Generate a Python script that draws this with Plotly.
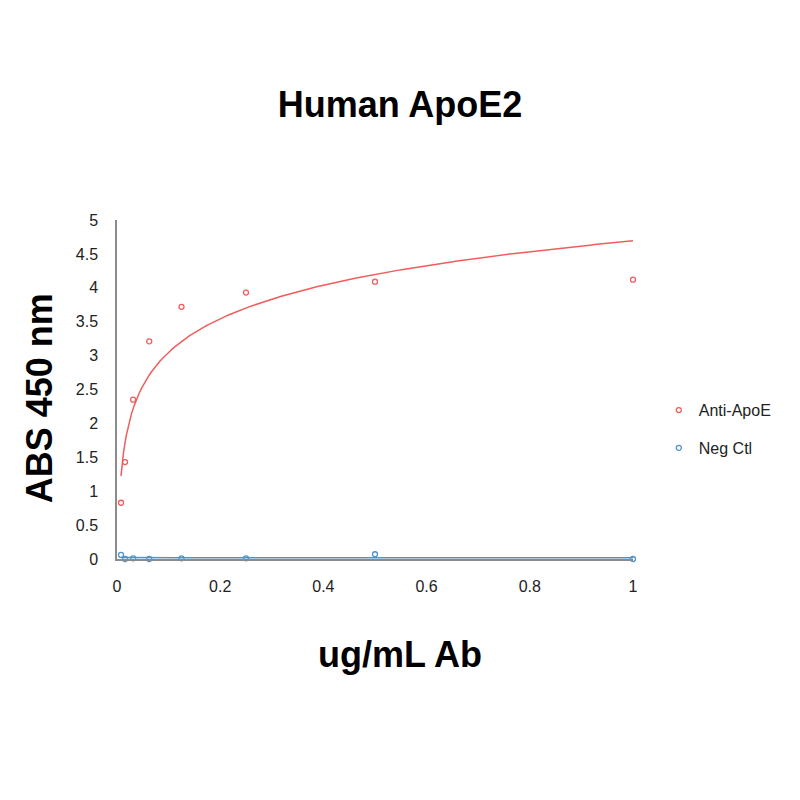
import numpy as np
import plotly.graph_objects as go

# antibody concentration (ug/mL)
conc = [0.0078, 0.0156, 0.03125, 0.0625, 0.125, 0.25, 0.5, 1.0]
anti_apoe = [0.83, 1.43, 2.35, 3.21, 3.72, 3.93, 4.09, 4.12]
neg_ctl = [0.06, 0.0, 0.01, 0.0, 0.01, 0.01, 0.07, 0.0]

red = '#f25c5c'
blue = '#4f94c8'


def log_trend(x, y):
    # Excel style logarithmic trendline
    a, b = np.polyfit(np.log(x), y, 1)
    xs = np.linspace(min(x), max(x), 200)
    return xs, a * np.log(xs) + b


fig = go.Figure()
for name, ys, col in [('Anti-ApoE', anti_apoe, red), ('Neg Ctl', neg_ctl, blue)]:
    tx, ty = log_trend(conc, ys)
    fig.add_trace(go.Scatter(x=tx, y=ty, mode='lines', line=dict(color=col, width=1.5),
                             showlegend=False, hoverinfo='skip', cliponaxis=False))
    fig.add_trace(go.Scatter(x=conc, y=ys, mode='markers', name=name, legendgroup=name,
                             cliponaxis=False,
                             marker=dict(symbol='circle-open', size=5, color=col, line=dict(width=1.3))))

big = dict(family='Liberation Sans, Arial', size=36, color='black')
tick_font = dict(family='Liberation Sans, Arial', size=16, color='#222')
# page body adds 8px offset, so margins are shifted to compensate
fig.update_layout(
    width=800, height=800,
    paper_bgcolor='white', plot_bgcolor='white',
    margin=dict(l=109, r=175, t=212, b=249),
    title=dict(text='<b>Human ApoE2</b>', x=0.49, xanchor='center', y=0.879, yanchor='middle', font=big),
    xaxis=dict(range=[0, 1], tickvals=[0, 0.2, 0.4, 0.6, 0.8, 1], ticktext=['0', '0.2', '0.4', '0.6', '0.8', '1'],
               showgrid=False, zeroline=False, showline=True, linecolor='#8c8c8c', linewidth=1.5,
               tickfont=tick_font, ticks='', ticklabelstandoff=12),
    yaxis=dict(range=[0, 5], dtick=0.5, showgrid=False, zeroline=False, showline=True,
               linecolor='#8c8c8c', linewidth=1.5, tickfont=tick_font, ticks='', ticklabelstandoff=14),
    legend=dict(x=1.05, y=0.383, xanchor='left', yanchor='middle', font=tick_font,
                itemsizing='trace', tracegroupgap=14, bgcolor='rgba(0,0,0,0)'),
    annotations=[
        dict(text='<b>ug/mL Ab</b>', xref='paper', yref='paper', x=0.549, y=-0.283,
             xanchor='center', yanchor='middle', showarrow=False, font=big),
        dict(text='<b>ABS 450 nm</b>', xref='paper', yref='paper', x=-0.15, y=0.473,
             xanchor='center', yanchor='middle', textangle=-90, showarrow=False, font=big),
    ],
)

fig.write_html("out.html")
